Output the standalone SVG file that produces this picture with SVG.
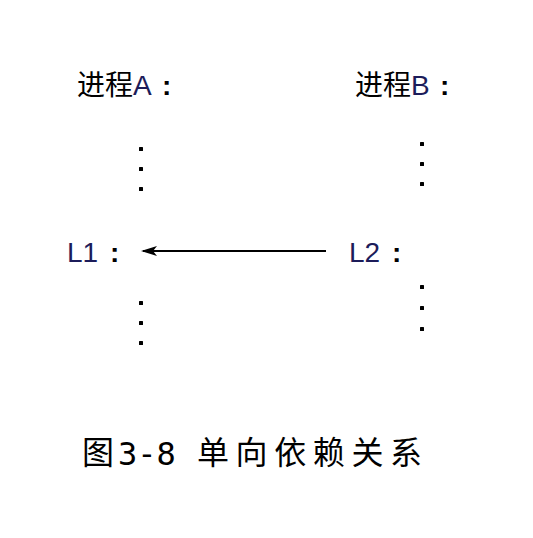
<svg xmlns="http://www.w3.org/2000/svg" width="533" height="538" viewBox="0 0 533 538">
<style>
.t{font-family:"Liberation Sans","Noto Sans CJK SC",sans-serif;font-size:28px;fill:#000}
.l{fill:#1c1c5a}
.c{font-family:"Liberation Sans",sans-serif;font-size:28px;font-weight:bold;fill:#000}
.cap{font-family:"Noto Sans CJK SC",sans-serif;font-size:32px;fill:#000}
</style>
<defs>
<marker id="ah" markerWidth="16" markerHeight="10" refX="14" refY="5" orient="auto" markerUnits="userSpaceOnUse" viewBox="0 0 16 10">
<path d="M0,0 L16,5 L0,10 L4,5 Z" fill="#000"/>
</marker>
<rect id="dot" width="4" height="4" rx="0.5"/>
</defs>
<rect width="533" height="538" fill="#fff"/>
<g id="processA">
<text class="t" x="77" y="95">进程<tspan class="l">A</tspan></text>
<text class="c" x="162" y="95">:</text>
<use href="#dot" x="139" y="147"/><use href="#dot" x="139" y="167"/><use href="#dot" x="139" y="187"/>
<use href="#dot" x="139" y="301"/><use href="#dot" x="139" y="321"/><use href="#dot" x="139" y="341"/>
</g>
<g id="processB">
<text class="t" x="355" y="95">进程<tspan class="l">B</tspan></text>
<text class="c" x="440" y="95">:</text>
<use href="#dot" x="420" y="142"/><use href="#dot" x="420" y="162"/><use href="#dot" x="420" y="182"/>
<use href="#dot" x="420" y="285"/><use href="#dot" x="420" y="306"/><use href="#dot" x="420" y="327"/>
</g>
<g id="L1">
<text class="t l" x="67" y="262">L1</text>
<text class="c" x="110" y="262">:</text>
</g>
<g id="L2">
<text class="t l" x="349" y="262">L2</text>
<text class="c" x="392" y="262">:</text>
</g>
<g id="connectors">
<line x1="326" y1="251" x2="143" y2="251" stroke="#000" stroke-width="2" marker-end="url(#ah)"/>
</g>
<g id="caption">
<text class="cap" x="82" y="464">图</text>
<text x="118" y="465" font-family="'DejaVu Sans Mono',monospace" font-size="32">3-8</text>
<text class="cap" x="197" y="464" textLength="225" lengthAdjust="spacing">单向依赖关系</text>
</g>
</svg>
